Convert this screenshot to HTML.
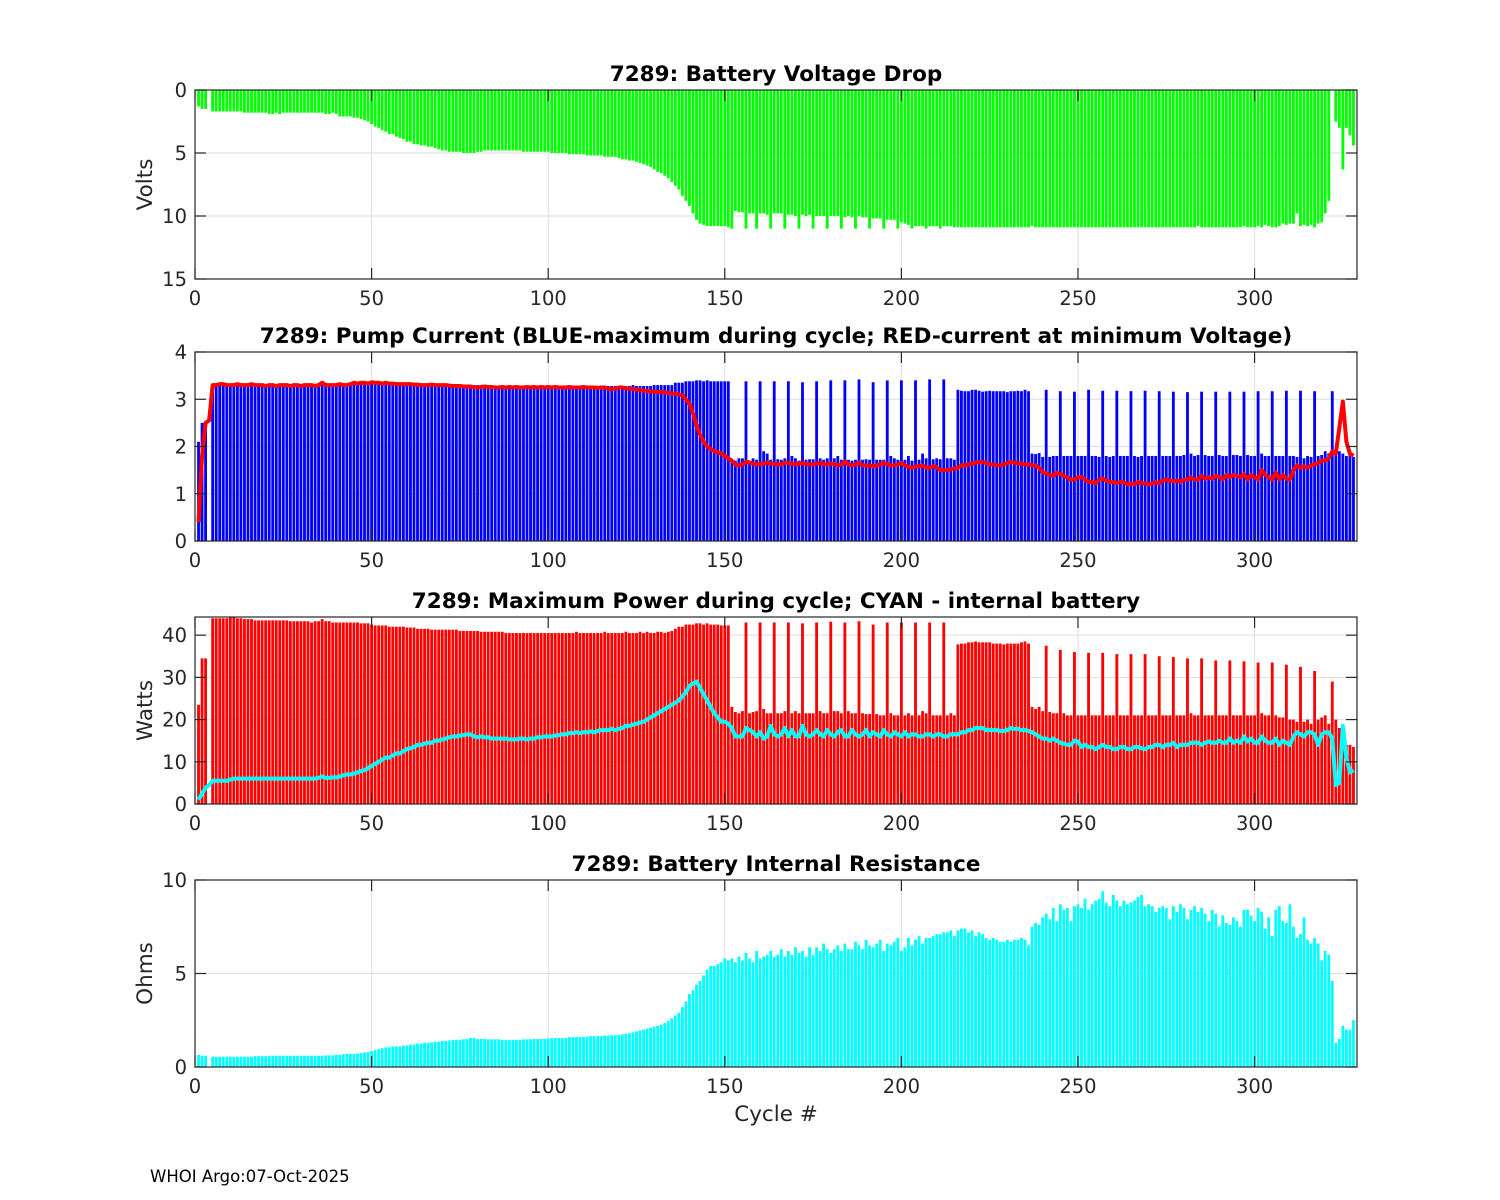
<!DOCTYPE html>
<html><head><meta charset="utf-8"><style>
body{margin:0;background:#fff;}
svg{display:block;font-family:"DejaVu Sans","Liberation Sans",sans-serif;}
</style></head><body>
<svg id="chart" width="1500" height="1200" viewBox="0 0 1500 1200"></svg>
<script>
const voltDrop=[1.3,1.5,1.5,0,1.7,1.7,1.7,1.7,1.7,1.7,
1.7,1.7,1.7,1.8,1.8,1.8,1.8,1.8,1.8,1.8,
1.9,1.9,1.8,1.9,1.8,1.8,1.8,1.8,1.8,1.8,
1.8,1.8,1.8,1.8,1.8,1.8,1.9,1.9,1.8,1.9,
2.1,2.1,2.1,2.1,2.2,2.2,2.3,2.4,2.5,2.7,
2.9,3.0,3.2,3.3,3.5,3.5,3.7,3.8,3.9,4.1,
4.1,4.3,4.3,4.4,4.4,4.5,4.5,4.6,4.7,4.8,
4.8,4.9,4.9,4.9,4.9,5.0,5.0,5.0,5.0,4.9,
4.9,4.8,4.8,4.8,4.8,4.8,4.8,4.8,4.8,4.8,
4.8,4.8,4.9,4.9,4.9,4.9,4.9,4.9,4.9,4.9,
5.0,5.0,5.0,5.0,5.0,5.1,5.1,5.1,5.1,5.1,
5.2,5.2,5.2,5.2,5.2,5.3,5.3,5.3,5.3,5.4,
5.5,5.5,5.6,5.6,5.7,5.8,5.9,6.0,6.1,6.3,
6.5,6.6,6.8,7.0,7.3,7.6,7.9,8.4,8.8,9.2,
9.8,10.3,10.6,10.7,10.8,10.8,10.8,10.8,10.8,10.8,
10.9,11.0,9.6,9.7,9.7,11.0,9.8,9.8,11.0,9.8,
9.8,9.9,11.0,9.8,9.8,9.8,11.0,9.9,9.9,10.0,
11.0,9.9,10.0,9.9,11.0,10.0,10.0,10.0,11.0,10.0,
10.0,10.0,11.0,10.1,10.0,10.1,11.0,10.0,10.1,10.1,
11.0,10.2,10.2,10.2,11.0,10.3,10.3,10.3,11.0,10.5,
10.6,10.7,11.0,10.8,10.8,10.8,11.0,10.8,10.8,10.8,
11.0,10.8,10.8,10.8,10.9,10.9,10.9,10.9,10.9,10.9,
10.9,10.9,10.9,10.9,10.9,10.9,10.9,10.9,10.9,10.9,
10.9,10.9,10.9,10.9,10.9,10.9,10.8,10.9,10.9,10.9,
10.9,10.9,10.9,10.9,10.9,10.9,10.9,10.9,10.9,10.9,
10.9,10.9,10.9,10.9,10.9,10.9,10.9,10.9,10.9,10.9,
10.9,10.9,10.9,10.9,10.9,10.9,10.9,10.9,10.9,10.9,
10.9,10.9,10.9,10.9,10.9,10.9,10.9,10.9,10.9,10.9,
10.9,10.9,10.9,10.8,10.9,10.9,10.9,10.9,10.9,10.9,
10.9,10.9,10.9,10.9,10.9,10.9,10.8,10.9,10.9,10.9,
10.8,10.9,10.7,10.8,10.9,10.9,10.8,10.6,10.7,10.6,
10.6,9.8,10.8,10.7,10.8,10.7,10.9,10.6,10.5,9.8,
8.8,0,2.5,3.0,6.3,3.0,3.6,4.4];

const pumpMax=[2.1,2.5,2.5,0,3.3,3.3,3.3,3.3,3.3,3.3,
3.3,3.3,3.3,3.3,3.3,3.3,3.3,3.3,3.3,3.3,
3.3,3.3,3.3,3.3,3.3,3.3,3.3,3.3,3.3,3.3,
3.3,3.3,3.3,3.3,3.3,3.35,3.3,3.3,3.3,3.3,
3.3,3.3,3.3,3.3,3.35,3.35,3.35,3.35,3.35,3.35,
3.35,3.35,3.35,3.35,3.35,3.3,3.3,3.3,3.3,3.3,
3.3,3.3,3.3,3.3,3.3,3.3,3.3,3.3,3.3,3.3,
3.3,3.3,3.3,3.3,3.3,3.3,3.3,3.3,3.3,3.3,
3.28,3.28,3.28,3.28,3.28,3.28,3.28,3.28,3.28,3.28,
3.28,3.28,3.28,3.28,3.28,3.28,3.28,3.28,3.28,3.28,
3.28,3.28,3.28,3.28,3.28,3.28,3.28,3.28,3.28,3.28,
3.28,3.28,3.28,3.28,3.28,3.28,3.28,3.28,3.28,3.28,
3.28,3.28,3.28,3.3,3.28,3.28,3.28,3.28,3.28,3.3,
3.3,3.3,3.3,3.3,3.3,3.35,3.35,3.35,3.38,3.38,
3.38,3.4,3.4,3.38,3.4,3.38,3.38,3.38,3.38,3.38,
3.38,1.7,1.7,1.75,1.75,3.38,1.7,1.75,1.72,3.38,
1.9,1.85,1.72,3.38,1.73,1.72,1.75,3.38,1.8,1.75,
1.7,3.36,1.72,1.73,1.73,3.38,1.75,1.72,1.75,3.4,
1.75,1.8,1.72,3.4,1.72,1.7,1.72,3.42,1.72,1.73,
1.72,3.36,1.72,1.72,1.72,3.4,1.8,1.75,1.72,3.4,
1.72,1.8,1.7,3.4,1.72,1.85,1.75,3.42,1.73,1.75,
1.73,3.42,1.75,1.75,1.72,3.2,3.18,3.17,3.17,3.2,
3.2,3.18,3.16,3.17,3.18,3.17,3.17,3.17,3.17,3.15,
3.17,3.17,3.18,3.17,3.2,3.17,1.85,1.84,1.86,1.78,
3.2,1.78,1.8,1.8,3.17,1.8,1.8,1.8,3.16,1.8,
1.8,1.8,3.2,1.8,1.8,1.78,3.18,1.8,1.78,1.8,
3.18,1.8,1.8,1.8,3.17,1.8,1.78,1.8,3.18,1.8,
1.8,1.8,3.17,1.8,1.8,1.8,3.16,1.8,1.8,1.82,
3.15,1.85,1.8,1.82,3.16,1.82,1.8,1.8,3.16,1.82,
1.8,1.8,3.16,1.82,1.82,1.8,3.16,1.82,1.8,1.8,
3.17,1.85,1.8,1.8,3.17,1.8,1.8,1.8,3.18,1.8,
1.8,1.78,3.18,1.75,1.8,1.78,3.17,1.8,1.82,1.9,
1.85,3.17,1.92,1.9,1.85,1.8,1.82,1.78];

const pumpAtMinV=[0.4,1.8,2.5,2.55,3.3,3.3,3.32,3.32,3.3,3.3,
3.3,3.32,3.3,3.3,3.3,3.32,3.3,3.3,3.3,3.28,
3.3,3.3,3.28,3.3,3.3,3.3,3.28,3.3,3.3,3.28,
3.3,3.3,3.3,3.28,3.3,3.35,3.3,3.3,3.3,3.3,
3.32,3.3,3.3,3.32,3.35,3.33,3.35,3.35,3.33,3.36,
3.35,3.35,3.33,3.35,3.33,3.33,3.32,3.32,3.32,3.32,
3.32,3.31,3.31,3.3,3.3,3.3,3.31,3.3,3.3,3.3,
3.3,3.29,3.28,3.28,3.28,3.27,3.27,3.27,3.25,3.25,
3.26,3.27,3.26,3.26,3.25,3.25,3.26,3.25,3.26,3.25,
3.26,3.25,3.25,3.26,3.25,3.26,3.25,3.26,3.25,3.26,
3.25,3.26,3.25,3.25,3.25,3.26,3.25,3.25,3.25,3.26,
3.25,3.25,3.25,3.24,3.25,3.25,3.22,3.22,3.22,3.25,
3.25,3.23,3.22,3.22,3.2,3.2,3.18,3.17,3.17,3.16,
3.15,3.15,3.15,3.13,3.12,3.12,3.1,3.08,3.0,2.9,
2.7,2.45,2.25,2.1,2.0,1.95,1.9,1.88,1.85,1.8,
1.75,1.7,1.62,1.6,1.62,1.68,1.66,1.64,1.62,1.63,
1.64,1.66,1.64,1.63,1.62,1.62,1.66,1.65,1.64,1.62,
1.64,1.65,1.63,1.62,1.62,1.64,1.65,1.63,1.62,1.64,
1.63,1.6,1.62,1.68,1.62,1.6,1.62,1.66,1.6,1.6,
1.6,1.57,1.6,1.62,1.65,1.63,1.6,1.6,1.62,1.65,
1.6,1.57,1.55,1.58,1.58,1.6,1.55,1.55,1.58,1.56,
1.5,1.5,1.5,1.52,1.53,1.55,1.6,1.6,1.62,1.64,
1.66,1.67,1.67,1.65,1.62,1.62,1.6,1.6,1.62,1.65,
1.67,1.66,1.64,1.64,1.62,1.62,1.6,1.6,1.55,1.45,
1.43,1.4,1.38,1.45,1.42,1.38,1.34,1.3,1.3,1.35,
1.35,1.3,1.25,1.25,1.22,1.3,1.32,1.28,1.25,1.25,
1.22,1.25,1.24,1.2,1.22,1.2,1.25,1.22,1.22,1.2,
1.22,1.24,1.22,1.28,1.3,1.28,1.26,1.28,1.25,1.3,
1.3,1.35,1.3,1.3,1.38,1.32,1.35,1.32,1.38,1.35,
1.3,1.4,1.35,1.4,1.38,1.35,1.42,1.3,1.4,1.35,
1.3,1.5,1.4,1.35,1.3,1.45,1.3,1.4,1.32,1.3,
1.5,1.6,1.55,1.58,1.55,1.6,1.62,1.65,1.7,1.7,
1.75,1.9,1.85,2.4,2.95,2.1,1.85,1.8];

const powerMax=[23.5,34.5,34.5,0,44,44,44,44,44,44.2,
44.2,44,44,43.8,43.8,43.8,43.5,43.5,43.5,43.5,
43.5,43.5,43.5,43.5,43.5,43.5,43.3,43.3,43.3,43.3,
43.3,43.3,43,43.3,43.3,43.8,43.3,43.3,43,43,
43,43,43,43,43,43,42.8,42.8,42.8,42.5,
42.3,42.3,42.3,42.3,42,42,42,42,42,41.8,
41.8,41.8,41.5,41.5,41.5,41.5,41.3,41.3,41.3,41.3,
41.3,41.3,41.3,41.3,41,41,41,41,41,41,
40.8,40.8,40.8,40.8,40.8,40.8,40.8,40.5,40.5,40.5,
40.5,40.5,40.5,40.5,40.5,40.5,40.5,40.5,40.5,40.5,
40.5,40.5,40.5,40.5,40.5,40.5,40.5,40.8,40.5,40.5,
40.5,40.5,40.5,40.5,40.5,40.8,40.5,40.5,40.5,40.5,
40.5,40.8,40.5,40.5,40.5,40.8,40.5,40.8,40.5,40.5,
40.8,40.8,40.5,40.8,41,41.5,42,42,42.5,42.5,
42.5,42.8,42.8,42.5,42.8,42.5,42.5,42.5,42.3,42.3,
42.3,23,21.8,21.5,22,43,21.5,21.8,22,43,
22.5,21.5,21.5,43,21.5,21.5,22,43,21.5,22,
21.5,42.8,21.5,21.5,21.5,43,22,21.5,21.5,43.2,
22,22,21.5,43,22,21.5,21.5,43.3,21.5,21.3,
21.3,42.5,21.3,21,21,43,21.5,21,21,43,
21,21.5,21,43,21,22,21.5,43,21,21,
21,43,21,21.5,21,37.8,38,38,38.3,38.3,
38.5,38.3,38.3,38.3,38.3,38,38,38,37.8,38,
38,38,38,38.3,38.5,38,23,22.5,23,22,
37.5,21.8,21.5,21.5,36.5,21.5,21,21,36,21,
21,21,35.8,21,21,21,35.8,21,21,21,
35.5,21,21,21,35.5,21,21,21,35.5,21,
21,21,35,21,21,21,34.8,21,21,21,
34.5,21.5,21,21,34.5,21,21,21,34,21,
21,21,34,21,21,21,33.8,21,21,21,
33.5,21.5,21,21,33.5,21,20.5,20.5,33,20,
20,19.5,32.5,19.5,20,19,31.5,20,20.5,21,
19,29,20,18,17,14,14,13.5];

const powerInternal=[1,2.5,3.8,4.5,5.5,5.5,5.5,5.5,5.5,5.8,
6,6,6,6,6,6,6,6,6,6,
6,6,6,6,6,6,6,6,6,6,
6,6,6,6,6.2,6.5,6.2,6.2,6.3,6.3,
6.5,6.8,7,7,7.2,7.5,7.8,8,8.5,9,
9.5,10,10.5,11,11,11.5,12,12,12.5,13,
13.2,13.5,14,14,14.3,14.5,14.5,15,15,15.3,
15.5,15.8,16,16,16.2,16.3,16.5,16.5,16,15.8,
16,15.8,15.8,15.5,15.5,15.5,15.5,15.5,15.3,15.3,
15.3,15.5,15.5,15.3,15.5,15.5,15.8,15.8,16,16,
16,16.2,16.3,16.5,16.5,16.8,16.8,17,16.8,17,
17,17.2,17,17.3,17.5,17.5,17.5,17.8,17.5,17.8,
18,18.5,18.5,18.8,19,19.3,19.5,20,20.5,21,
21.5,22,22.5,23,23.5,24,24.5,25.5,26.5,28,
28.5,29,27.5,26,24.5,23,21.5,20.5,19.5,19.5,
19,18,16,16,16,18,17.5,17,16,17,
15.5,16,18.5,16.5,16,16.5,18,16,17.5,16,
16,18.5,16.5,16,16.5,17.5,16.5,16,17.5,16.5,
16,17,17.5,16,16,17.5,16.5,16,16.5,17.5,
16,17,16.5,16,17.5,16.5,16,17,16.5,16,
17,16,16.5,16.5,16,16,16.5,16.5,16,16.5,
16.5,16,16,16.5,16.5,16.5,17,17,17.5,17.5,
18,18,18,17.5,17.5,17.5,17.5,17.3,17.3,17.5,
18,17.8,17.8,17.5,17.5,17.3,17,16.5,16,15.5,
15.5,15,15.5,15,14.5,14.3,14,14,15,14.8,
13.5,14,13.5,13.5,13,13.5,14,13.5,13.5,13,
13,13.5,13.5,13,13,13.5,13.5,13.2,13,13.5,
13.5,14,14,13.5,14,14,14.5,13.5,14,14,
14,14.5,14.5,14.5,14,14.5,14.8,14.5,14.5,15,
14.5,14.5,15.5,14.5,15,14.5,16,14.8,15.5,14.5,
14.5,16,15,14.5,14.5,15.5,14,15,14.5,14,
16,17,16.5,16,17,17,16.5,14,16.5,17,
17,15.5,4.5,5,18.5,11,7.5,8];

const resistance=[0.65,0.6,0.6,0,0.55,0.55,0.55,0.55,0.55,0.55,
0.55,0.55,0.55,0.55,0.55,0.55,0.58,0.58,0.58,0.58,
0.6,0.6,0.6,0.6,0.6,0.6,0.6,0.6,0.6,0.6,
0.6,0.6,0.6,0.6,0.6,0.6,0.62,0.62,0.62,0.65,
0.65,0.68,0.7,0.7,0.7,0.72,0.75,0.78,0.8,0.85,
0.9,0.95,1.0,1.05,1.05,1.1,1.1,1.1,1.15,1.15,
1.2,1.2,1.25,1.25,1.3,1.3,1.32,1.35,1.35,1.4,
1.4,1.42,1.45,1.45,1.45,1.48,1.5,1.55,1.55,1.5,
1.5,1.5,1.48,1.48,1.48,1.48,1.45,1.45,1.45,1.45,
1.45,1.45,1.48,1.48,1.48,1.5,1.5,1.5,1.5,1.52,
1.55,1.55,1.55,1.55,1.55,1.6,1.6,1.6,1.6,1.62,
1.62,1.65,1.65,1.65,1.65,1.68,1.68,1.7,1.7,1.72,
1.75,1.78,1.8,1.85,1.9,1.95,2.0,2.05,2.1,2.15,
2.2,2.25,2.35,2.45,2.6,2.75,2.9,3.2,3.5,3.9,
4.1,4.4,4.6,4.9,5.2,5.4,5.4,5.5,5.6,5.8,
5.7,5.8,5.6,5.9,5.7,6.1,5.8,5.6,6.2,5.8,
5.9,6.0,6.2,5.9,6.0,6.3,5.9,6.2,6.0,6.4,
6.1,6.2,5.9,6.4,6.0,6.4,6.2,6.6,6.3,6.1,
6.3,6.5,6.2,6.6,6.3,6.3,6.7,6.5,6.3,6.8,
6.5,6.4,6.6,6.8,6.2,6.6,6.5,6.7,6.9,6.2,
6.4,6.9,6.5,6.8,7.0,6.6,6.9,6.9,7.0,7.1,
7.1,7.2,7.2,7.3,7.0,7.3,7.4,7.4,7.2,7.3,
7.0,7.2,7.1,6.9,6.8,6.9,6.8,6.7,6.7,6.8,
6.7,6.8,6.8,6.9,6.8,6.5,7.5,7.7,7.6,8.0,
8.2,7.9,8.5,7.8,8.7,8.4,8.5,7.8,8.6,8.7,
8.5,9.0,8.4,8.7,8.9,9.0,9.4,8.8,8.6,9.2,
8.9,8.6,8.9,8.7,8.8,8.9,9.1,9.2,8.6,8.7,
8.6,8.3,8.5,8.6,8.5,7.9,8.6,8.3,8.7,8.5,
7.9,8.4,8.6,8.3,8.5,8.2,7.8,8.4,8.2,7.5,
8.1,7.7,7.6,8.0,7.8,7.5,8.4,8.4,8.1,7.8,
8.5,8.3,7.4,8.0,7.0,8.4,8.6,7.8,7.7,8.7,
7.5,6.9,7.1,8.0,6.8,6.6,6.9,6.6,5.7,6.2,
6.0,4.6,1.3,1.5,2.2,2.0,2.0,2.5];

const xTicks=[0,50,100,150,200,250,300];
const yTicks1=[0,5,10,15];
const yTicks2=[0,1,2,3,4];
const yTicks3=[0,10,20,30,40];
const yTicks4=[0,5,10];

const NS='http://www.w3.org/2000/svg';
const svg=document.getElementById('chart');
const X0=195,X1=1357,XMAX=329;
function xs(c){return X0+c*(X1-X0)/XMAX;}
function mk(tag,attrs,parent){const e=document.createElementNS(NS,tag);for(const k in attrs)e.setAttribute(k,attrs[k]);(parent||svg).appendChild(e);return e;}

function panel(key,top,bot,ymin,ymax,rev,yticks,title,ylabel){
  const g=mk('g',{});
  
  
  const ys=v=>rev?top+(v-ymin)/(ymax-ymin)*(bot-top):bot-(v-ymin)/(ymax-ymin)*(bot-top);
  xTicks.forEach(t=>{const l=mk('line',{x1:xs(t),x2:xs(t),y1:top,y2:bot,stroke:'#dedede','stroke-width':1},g);
    
    });
  yticks.forEach(t=>{const l=mk('line',{x1:X0,x2:X1,y1:ys(t),y2:ys(t),stroke:'#dedede','stroke-width':1},g);
    
    });
  return {g,ys,top,bot,key,yticks,title,ylabel};
}
function bars(p,vals,color,name){
  const bw=0.8*(X1-X0)/XMAX;
  vals.forEach((v,i)=>{
    if(!v)return;
    const c=i+1;
    const y0=p.ys(0),y1=p.ys(v);
    const r=mk('rect',{x:xs(c)-bw/2,y:Math.min(y0,y1),width:bw,height:Math.abs(y1-y0),fill:color},p.g);
    
    
  });
}
function line(p,vals,color,name){
  const pts=vals.map((v,i)=>xs(i+1).toFixed(2)+','+p.ys(v).toFixed(2)).join(' ');
  const pl=mk('polyline',{points:pts,fill:'none',stroke:color,'stroke-width':4,'stroke-linejoin':'round'},p.g);
  
  
}
function frame(p){
  const g=p.g;
  const b=mk('rect',{x:X0,y:p.top,width:X1-X0,height:p.bot-p.top,fill:'none',stroke:'#262626','stroke-width':1.2},g);
  
  
  xTicks.forEach(t=>{
    mk('line',{x1:xs(t),x2:xs(t),y1:p.bot,y2:p.bot-11,stroke:'#262626','stroke-width':1.2},g);
    mk('line',{x1:xs(t),x2:xs(t),y1:p.top,y2:p.top+11,stroke:'#262626','stroke-width':1.2},g);
    const tx=mk('text',{x:xs(t),y:p.bot+26,'font-size':19.5,fill:'#262626','text-anchor':'middle'},g);
    tx.textContent=t;
    
    
  });
  p.yticks.forEach(t=>{
    mk('line',{x1:X0,x2:X0+11,y1:p.ys(t),y2:p.ys(t),stroke:'#262626','stroke-width':1.2},g);
    mk('line',{x1:X1,x2:X1-11,y1:p.ys(t),y2:p.ys(t),stroke:'#262626','stroke-width':1.2},g);
    const tx=mk('text',{x:X0-8,y:p.ys(t)+7,'font-size':19.5,fill:'#262626','text-anchor':'end'},g);
    tx.textContent=t;
    
    
  });
  const tt=mk('text',{x:(X0+X1)/2,y:p.top-9,'font-size':21.5,'font-weight':'bold',fill:'#000','text-anchor':'middle'},g);
  tt.textContent=p.title;
  
  
  if(p.ylabel){
    const cy=(p.top+p.bot)/2;
    const yl=mk('text',{x:152,y:cy,'font-size':21.5,fill:'#262626','text-anchor':'middle',transform:'rotate(-90 152 '+cy+')'},g);
    yl.textContent=p.ylabel;
    
    
  }
}

const p1=panel('voltage',90,279,0,15,true,yTicks1,'7289: Battery Voltage Drop','Volts');
bars(p1,voltDrop,'#00ff00','voltage-drop-bar');frame(p1);

const p2=panel('pump-current',352,541,0,4,false,yTicks2,'7289: Pump Current (BLUE-maximum during cycle; RED-current at minimum Voltage)','');
bars(p2,pumpMax,'#0000ff','pump-max-bar');line(p2,pumpAtMinV,'#ff0000','pump-current-min-voltage-line');frame(p2);

const p3=panel('power',617,804,0,44.3,false,yTicks3,'7289: Maximum Power during cycle; CYAN - internal battery','Watts');
bars(p3,powerMax,'#ff0000','power-max-bar');line(p3,powerInternal,'#00ffff','internal-power-line');frame(p3);

const p4=panel('resistance',880,1067,0,10,false,yTicks4,'7289: Battery Internal Resistance','Ohms');
bars(p4,resistance,'#00ffff','resistance-bar');frame(p4);

const xl=mk('text',{x:(X0+X1)/2,y:1121,'font-size':21.5,fill:'#262626','text-anchor':'middle'});
xl.textContent='Cycle #';


const ft=mk('text',{x:150,y:1182,'font-size':16.5,fill:'#000'});
ft.textContent='WHOI Argo:07-Oct-2025';


</script>
</body></html>
